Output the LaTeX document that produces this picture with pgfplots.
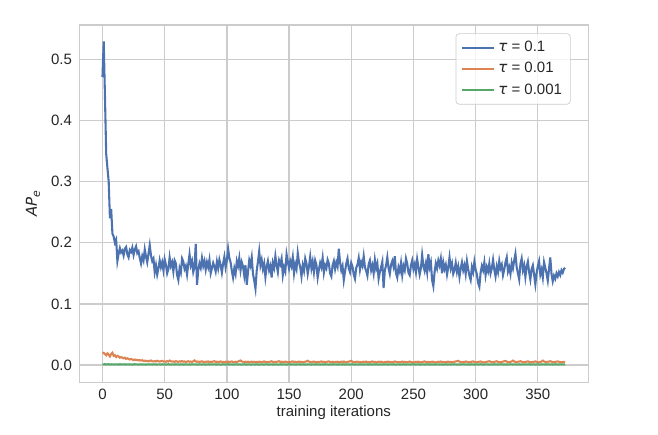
\documentclass[border=0pt]{standalone}
\usepackage{fontspec}
\setmainfont{Liberation Sans}
\newfontfamily\dejavu{DejaVu Sans}
\usepackage{pgfplots}
\pgfplotsset{compat=1.18}
\definecolor{sbblue}{RGB}{76,114,176}
\definecolor{sborange}{RGB}{221,132,82}
\definecolor{sbgreen}{RGB}{85,168,104}
\definecolor{gridgray}{RGB}{204,204,204}
\definecolor{labelgray}{RGB}{38,38,38}
\newcommand{\fs}{\fontsize{9}{10.8}\selectfont}
\begin{document}
\begin{tikzpicture}
\path[use as bounding box] (-47.6pt,-31.6pt) rectangle (347.2pt,229.4pt);
\begin{axis}[
  at={(0,0)}, anchor=south west,
  scale only axis, width=305.4pt, height=214.4pt,
  xmin=-18.6, xmax=390.6, ymin=-0.0283, ymax=0.556,
  xtick={0,50,100,150,200,250,300,350},
  xticklabels={0,50,100,150,200,250,300,350},
  ytick={0,0.1,0.2,0.3,0.4,0.5},
  yticklabels={0.0,0.1,0.2,0.3,0.4,0.5},
  major tick length=0pt,
  grid=major,
  major grid style={draw=gridgray, line width=0.8pt},
  axis line style={draw=gridgray, line width=0.8pt},
  tick label style={font=\fs, text=labelgray},
  xticklabel style={anchor=base, yshift=-10.6pt},
  yticklabel style={anchor=east, inner sep=0pt, xshift=-4.2pt},
  xlabel={training iterations},
  ylabel={{\dejavu\itshape AP\raisebox{-0.35ex}{\fontsize{6.5}{7}\selectfont e}}},
  xlabel style={at={(axis description cs:0.5,-0.086)}, anchor=center, font=\fs, text=labelgray},
  ylabel style={at={(axis description cs:-0.091,0.5)}, anchor=center, font=\fs, text=labelgray},
  legend style={at={(axis description cs:1,1)}, anchor=north east, xshift=-10.6pt, yshift=-5pt,
    draw=gridgray, rounded corners=2pt, fill=white, fill opacity=0.8, text opacity=1,
    font=\fs, text=labelgray, inner xsep=3pt, inner ysep=2.5pt, row sep=1pt,
    cells={anchor=west}},
  legend image code/.code={\draw[#1] (0pt,0pt) -- (19.2pt,0pt);},
]
\addplot[sbblue, line width=1.25pt] coordinates {
(0,0.471)(1,0.529)(2,0.440)(3,0.345)(4,0.322)(5,0.300)(6,0.240)(7,0.255)(8,0.215)(9,0.210)(10,0.200)(11,0.205)(12,0.170)
(13,0.182)(14,0.191)(15,0.184)(16,0.187)(17,0.179)(18,0.190)(19,0.193)(20,0.181)(21,0.176)(22,0.188)(23,0.185)(24,0.192)(25,0.180)(26,0.189)(27,0.194)(28,0.183)(29,0.186)(30,0.175)
(31,0.166)(32,0.178)(33,0.171)(34,0.189)(35,0.177)(36,0.168)(37,0.182)(38,0.196)(39,0.179)(40,0.170)(41,0.174)(42,0.152)(43,0.163)(44,0.148)(45,0.158)
(46,0.171)(47,0.160)(48,0.168)(49,0.155)(50,0.173)(51,0.164)(52,0.150)(53,0.157)(54,0.176)(55,0.162)(56,0.168)(57,0.153)(58,0.171)(59,0.166)(60,0.147)
(61,0.139)(62,0.158)(63,0.151)(64,0.174)(65,0.169)(66,0.157)(67,0.162)(68,0.148)(69,0.165)(70,0.181)(71,0.163)(72,0.170)(73,0.152)(74,0.160)(75,0.198)
(76,0.131)(77,0.155)(78,0.166)(79,0.159)(80,0.175)(81,0.162)(82,0.170)(83,0.156)(84,0.168)(85,0.160)(86,0.172)(87,0.150)(88,0.158)(89,0.167)(90,0.161)
(91,0.153)(92,0.169)(93,0.158)(94,0.172)(95,0.163)(96,0.151)(97,0.166)(98,0.177)(99,0.160)(100,0.171)(101,0.190)(102,0.175)(103,0.168)(104,0.154)(105,0.143)
(106,0.158)(107,0.149)(108,0.170)(109,0.162)(110,0.175)(111,0.155)(112,0.168)(113,0.161)(114,0.146)(115,0.163)(116,0.131)(117,0.152)(118,0.171)(119,0.163)(120,0.176)
(121,0.149)(122,0.138)(123,0.125)(124,0.154)(125,0.169)(126,0.186)(127,0.163)(128,0.172)(129,0.157)(130,0.166)(131,0.144)(132,0.161)(133,0.170)(134,0.155)(135,0.162)
(136,0.143)(137,0.167)(138,0.159)(139,0.178)(140,0.163)(141,0.152)(142,0.171)(143,0.165)(144,0.174)(145,0.147)(146,0.160)(147,0.153)(148,0.181)(149,0.169)(150,0.158)
(151,0.170)(152,0.162)(153,0.176)(154,0.150)(155,0.165)(156,0.157)(157,0.183)(158,0.168)(159,0.160)(160,0.145)(161,0.163)(162,0.154)(163,0.174)(164,0.166)(165,0.149)
(166,0.161)(167,0.177)(168,0.158)(169,0.169)(170,0.152)(171,0.171)(172,0.164)(173,0.143)(174,0.156)(175,0.167)(176,0.160)(177,0.175)(178,0.151)(179,0.163)(180,0.158)
(181,0.172)(182,0.166)(183,0.150)(184,0.145)(185,0.163)(186,0.170)(187,0.157)(188,0.168)(189,0.161)(190,0.190)(191,0.168)(192,0.155)(193,0.162)(194,0.139)(195,0.153)
(196,0.166)(197,0.174)(198,0.158)(199,0.152)(200,0.167)(201,0.161)(202,0.148)(203,0.141)(204,0.159)(205,0.164)(206,0.175)(207,0.156)(208,0.168)(209,0.162)(210,0.178)
(211,0.160)(212,0.154)(213,0.146)(214,0.165)(215,0.171)(216,0.155)(217,0.163)(218,0.150)(219,0.172)(220,0.158)(221,0.166)(222,0.141)(223,0.152)(224,0.160)(225,0.169)
(226,0.126)(227,0.155)(228,0.163)(229,0.176)(230,0.158)(231,0.149)(232,0.164)(233,0.170)(234,0.161)(235,0.178)(236,0.150)(237,0.143)(238,0.160)(239,0.153)(240,0.167)
(241,0.147)(242,0.162)(243,0.155)(244,0.174)(245,0.166)(246,0.151)(247,0.147)(248,0.163)(249,0.171)(250,0.157)(251,0.165)(252,0.152)(253,0.173)(254,0.160)(255,0.148)
(256,0.158)(257,0.180)(258,0.162)(259,0.154)(260,0.166)(261,0.152)(262,0.181)(263,0.160)(264,0.168)(265,0.139)(266,0.129)(267,0.152)(268,0.166)(269,0.158)(270,0.171)
(271,0.163)(272,0.174)(273,0.150)(274,0.168)(275,0.157)(276,0.164)(277,0.148)(278,0.160)(279,0.176)(280,0.158)(281,0.166)(282,0.149)(283,0.155)(284,0.167)(285,0.152)
(286,0.161)(287,0.144)(288,0.158)(289,0.168)(290,0.155)(291,0.163)(292,0.149)(293,0.170)(294,0.157)(295,0.146)(296,0.139)(297,0.160)(298,0.152)(299,0.169)(300,0.156)
(301,0.148)(302,0.134)(303,0.128)(304,0.151)(305,0.162)(306,0.155)(307,0.168)(308,0.147)(309,0.160)(310,0.153)(311,0.166)(312,0.150)(313,0.158)(314,0.172)(315,0.156)
(316,0.145)(317,0.161)(318,0.152)(319,0.170)(320,0.158)(321,0.164)(322,0.147)(323,0.156)(324,0.168)(325,0.176)(326,0.153)(327,0.160)(328,0.149)(329,0.167)(330,0.158)
(331,0.171)(332,0.182)(333,0.160)(334,0.150)(335,0.140)(336,0.165)(337,0.174)(338,0.155)(339,0.163)(340,0.144)(341,0.161)(342,0.169)(343,0.152)(344,0.140)(345,0.157)
(346,0.163)(347,0.148)(348,0.132)(349,0.150)(350,0.162)(351,0.170)(352,0.148)(353,0.156)(354,0.143)(355,0.168)(356,0.159)(357,0.150)(358,0.138)(359,0.157)(360,0.176)
(361,0.149)(362,0.137)(363,0.146)(364,0.141)(365,0.150)(366,0.145)(367,0.152)(368,0.147)(369,0.155)(370,0.151)(371,0.157)(372,0.159)
};
\addlegendentry{{\dejavu\itshape τ} = 0.1}
\addplot[sborange, line width=1.25pt] coordinates {
(0,0.019)(1,0.020)(2,0.018)(3,0.016)(4,0.019)(5,0.017)(6,0.014)(7,0.018)(8,0.020)(9,0.015)(10,0.016)(11,0.013)(12,0.015)(13,0.014)(14,0.012)
(15,0.013)(16,0.012)(17,0.011)(18,0.012)(19,0.010)(20,0.011)(21,0.010)(22,0.009)(23,0.010)(24,0.009)(25,0.008)(26,0.009)(27,0.008)(28,0.0085)(29,0.0075)
(30,0.0080)(31,0.0072)(32,0.0078)(33,0.0066)(34,0.0071)(35,0.0063)(36,0.0069)(37,0.0060)(38,0.0067)(39,0.0074)(40,0.0061)(41,0.0058)(42,0.0065)(43,0.0059)(44,0.0070)
(45,0.0062)(46,0.0056)(47,0.0063)(48,0.0068)(49,0.0057)(50,0.0060)(51,0.0053)(52,0.0064)(53,0.0058)(54,0.0073)(55,0.0061)(56,0.0055)(57,0.0059)(58,0.0052)(59,0.0063)
(60,0.0057)(61,0.0051)(62,0.0060)(63,0.0055)(64,0.0066)(65,0.0054)(66,0.0058)(67,0.0049)(68,0.0056)(69,0.0062)(70,0.0053)(71,0.0057)(72,0.0050)(73,0.0061)(74,0.0075)
(75,0.0060)(76,0.0052)(77,0.0057)(78,0.0049)(79,0.0055)(80,0.0061)(81,0.0051)(82,0.0047)(83,0.0056)(84,0.0053)(85,0.0059)(86,0.0048)(87,0.0054)(88,0.0050)(89,0.0058)
(90,0.0062)(91,0.0051)(92,0.0055)(93,0.0046)(94,0.0053)(95,0.0058)(96,0.0049)(97,0.0052)(98,0.0045)(99,0.0054)(100,0.0050)(101,0.0056)(102,0.0047)(103,0.0053)(104,0.0058)
(105,0.0050)(106,0.0046)(107,0.0053)(108,0.0049)(109,0.0057)(110,0.0066)(111,0.0074)(112,0.0058)(113,0.0051)(114,0.0047)(115,0.0054)(116,0.0049)(117,0.0055)(118,0.0045)(119,0.0050)
(120,0.0056)(121,0.0048)(122,0.0053)(123,0.0046)(124,0.0051)(125,0.0047)(126,0.0055)(127,0.0050)(128,0.0045)(129,0.0053)(130,0.0058)(131,0.0049)(132,0.0052)(133,0.0044)(134,0.0050)
(135,0.0055)(136,0.0061)(137,0.0050)(138,0.0047)(139,0.0053)(140,0.0048)(141,0.0057)(142,0.0062)(143,0.0051)(144,0.0055)(145,0.0046)(146,0.0051)(147,0.0056)(148,0.0048)(149,0.0045)
(150,0.0050)(151,0.0046)(152,0.0055)(153,0.0059)(154,0.0049)(155,0.0053)(156,0.0045)(157,0.0051)(158,0.0056)(159,0.0048)(160,0.0052)(161,0.0043)(162,0.0049)(163,0.0055)(164,0.0058)
(165,0.0070)(166,0.0055)(167,0.0050)(168,0.0046)(169,0.0052)(170,0.0057)(171,0.0048)(172,0.0044)(173,0.0050)(174,0.0046)(175,0.0054)(176,0.0058)(177,0.0049)(178,0.0053)(179,0.0044)
(180,0.0049)(181,0.0056)(182,0.0060)(183,0.0050)(184,0.0047)(185,0.0053)(186,0.0045)(187,0.0052)(188,0.0048)(189,0.0055)(190,0.0042)(191,0.0048)(192,0.0054)(193,0.0051)(194,0.0057)
(195,0.0047)(196,0.0043)(197,0.0050)(198,0.0055)(199,0.0061)(200,0.0068)(201,0.0053)(202,0.0049)(203,0.0045)(204,0.0052)(205,0.0056)(206,0.0047)(207,0.0051)(208,0.0043)(209,0.0049)
(210,0.0054)(211,0.0050)(212,0.0056)(213,0.0045)(214,0.0049)(215,0.0044)(216,0.0053)(217,0.0058)(218,0.0048)(219,0.0052)(220,0.0043)(221,0.0047)(222,0.0054)(223,0.0050)(224,0.0055)
(225,0.0046)(226,0.0042)(227,0.0048)(228,0.0053)(229,0.0049)(230,0.0056)(231,0.0045)(232,0.0050)(233,0.0044)(234,0.0051)(235,0.0058)(236,0.0052)(237,0.0046)(238,0.0049)(239,0.0043)
(240,0.0050)(241,0.0056)(242,0.0048)(243,0.0053)(244,0.0044)(245,0.0047)(246,0.0052)(247,0.0057)(248,0.0049)(249,0.0045)(250,0.0041)(251,0.0048)(252,0.0053)(253,0.0050)(254,0.0055)
(255,0.0046)(256,0.0043)(257,0.0049)(258,0.0054)(259,0.0058)(260,0.0050)(261,0.0046)(262,0.0052)(263,0.0044)(264,0.0048)(265,0.0055)(266,0.0051)(267,0.0045)(268,0.0042)(269,0.0049)
(270,0.0053)(271,0.0048)(272,0.0057)(273,0.0051)(274,0.0045)(275,0.0050)(276,0.0044)(277,0.0052)(278,0.0056)(279,0.0047)(280,0.0051)(281,0.0043)(282,0.0049)(283,0.0054)(284,0.0058)
(285,0.0063)(286,0.0068)(287,0.0055)(288,0.0049)(289,0.0045)(290,0.0052)(291,0.0047)(292,0.0058)(293,0.0053)(294,0.0049)(295,0.0044)(296,0.0050)(297,0.0055)(298,0.0059)(299,0.0051)
(300,0.0047)(301,0.0043)(302,0.0049)(303,0.0054)(304,0.0058)(305,0.0050)(306,0.0045)(307,0.0042)(308,0.0048)(309,0.0053)(310,0.0057)(311,0.0062)(312,0.0054)(313,0.0049)(314,0.0046)
(315,0.0052)(316,0.0056)(317,0.0061)(318,0.0050)(319,0.0047)(320,0.0044)(321,0.0051)(322,0.0055)(323,0.0062)(324,0.0066)(325,0.0056)(326,0.0050)(327,0.0046)(328,0.0052)(329,0.0057)
(330,0.0072)(331,0.0058)(332,0.0051)(333,0.0047)(334,0.0053)(335,0.0056)(336,0.0062)(337,0.0054)(338,0.0049)(339,0.0045)(340,0.0051)(341,0.0055)(342,0.0060)(343,0.0052)(344,0.0047)
(345,0.0044)(346,0.0050)(347,0.0053)(348,0.0059)(349,0.0051)(350,0.0047)(351,0.0043)(352,0.0050)(353,0.0056)(354,0.0072)(355,0.0058)(356,0.0051)(357,0.0047)(358,0.0053)(359,0.0057)
(360,0.0062)(361,0.0054)(362,0.0049)(363,0.0045)(364,0.0051)(365,0.0055)(366,0.0060)(367,0.0053)(368,0.0047)(369,0.0044)(370,0.0049)(371,0.0052)(372,0.0050)
};
\addlegendentry{{\dejavu\itshape τ} = 0.01}
\addplot[sbgreen, line width=1.25pt] coordinates {
(0,0.0012)(1,0.0010)(2,0.0014)(3,0.0009)(4,0.0011)(5,0.0013)(6,0.0008)(7,0.0012)(8,0.0010)(9,0.0011)
(10,0.0009)(11,0.0012)(12,0.0010)(13,0.0008)(14,0.0013)(15,0.0011)(16,0.0009)(17,0.0010)(18,0.0012)(19,0.0008)
(20,0.0011)(21,0.0009)(22,0.0012)(23,0.0010)(24,0.0007)(25,0.0011)(26,0.0013)(27,0.0009)(28,0.0010)(29,0.0008)
(30,0.0010)(31,0.0012)(32,0.0008)(33,0.0011)(34,0.0009)(35,0.0007)(36,0.0010)(37,0.0012)(38,0.0009)(39,0.0011)
(40,0.0008)(41,0.0010)(42,0.0012)(43,0.0009)(44,0.0007)(45,0.0011)(46,0.0010)(47,0.0008)(48,0.0012)(49,0.0009)
(50,0.0011)(51,0.0008)(52,0.0010)(53,0.0013)(54,0.0009)(55,0.0007)(56,0.0011)(57,0.0010)(58,0.0008)(59,0.0012)
(60,0.0009)(61,0.0011)(62,0.0007)(63,0.0010)(64,0.0012)(65,0.0008)(66,0.0010)(67,0.0009)(68,0.0011)(69,0.0007)
(70,0.0010)(71,0.0008)(72,0.0012)(73,0.0009)(74,0.0011)(75,0.0010)(76,0.0007)(77,0.0009)(78,0.0012)(79,0.0010)
(80,0.0008)(81,0.0011)(82,0.0009)(83,0.0007)(84,0.0010)(85,0.0012)(86,0.0008)(87,0.0011)(88,0.0009)(89,0.0010)
(90,0.0012)(91,0.0009)(92,0.0008)(93,0.0011)(94,0.0010)(95,0.0007)(96,0.0009)(97,0.0012)(98,0.0010)(99,0.0008)
(100,0.0010)(101,0.0012)(102,0.0008)(103,0.0009)(104,0.0011)(105,0.0007)(106,0.0010)(107,0.0009)(108,0.0012)(109,0.0008)
(110,0.0011)(111,0.0009)(112,0.0007)(113,0.0010)(114,0.0012)(115,0.0009)(116,0.0008)(117,0.0011)(118,0.0010)(119,0.0007)
(120,0.0009)(121,0.0011)(122,0.0010)(123,0.0008)(124,0.0012)(125,0.0009)(126,0.0007)(127,0.0010)(128,0.0011)(129,0.0009)
(130,0.0008)(131,0.0010)(132,0.0012)(133,0.0009)(134,0.0007)(135,0.0011)(136,0.0010)(137,0.0008)(138,0.0009)(139,0.0011)
(140,0.0010)(141,0.0007)(142,0.0009)(143,0.0012)(144,0.0008)(145,0.0010)(146,0.0011)(147,0.0009)(148,0.0007)(149,0.0010)
(150,0.0012)(151,0.0008)(152,0.0010)(153,0.0009)(154,0.0011)(155,0.0007)(156,0.0009)(157,0.0010)(158,0.0012)(159,0.0008)
(160,0.0009)(161,0.0011)(162,0.0008)(163,0.0010)(164,0.0007)(165,0.0012)(166,0.0009)(167,0.0010)(168,0.0008)(169,0.0011)
(170,0.0010)(171,0.0008)(172,0.0012)(173,0.0009)(174,0.0011)(175,0.0007)(176,0.0010)(177,0.0009)(178,0.0008)(179,0.0012)
(180,0.0009)(181,0.0011)(182,0.0007)(183,0.0010)(184,0.0008)(185,0.0012)(186,0.0009)(187,0.0011)(188,0.0010)(189,0.0007)
(190,0.0011)(191,0.0009)(192,0.0010)(193,0.0008)(194,0.0012)(195,0.0007)(196,0.0010)(197,0.0011)(198,0.0009)(199,0.0008)
(200,0.0010)(201,0.0012)(202,0.0009)(203,0.0007)(204,0.0011)(205,0.0010)(206,0.0008)(207,0.0012)(208,0.0009)(209,0.0010)
(210,0.0008)(211,0.0010)(212,0.0011)(213,0.0009)(214,0.0007)(215,0.0012)(216,0.0010)(217,0.0008)(218,0.0011)(219,0.0009)
(220,0.0012)(221,0.0009)(222,0.0007)(223,0.0010)(224,0.0011)(225,0.0008)(226,0.0010)(227,0.0009)(228,0.0012)(229,0.0007)
(230,0.0009)(231,0.0011)(232,0.0010)(233,0.0008)(234,0.0012)(235,0.0009)(236,0.0007)(237,0.0010)(238,0.0011)(239,0.0008)
(240,0.0010)(241,0.0008)(242,0.0012)(243,0.0009)(244,0.0007)(245,0.0011)(246,0.0010)(247,0.0009)(248,0.0008)(249,0.0012)
(250,0.0011)(251,0.0009)(252,0.0008)(253,0.0010)(254,0.0012)(255,0.0007)(256,0.0009)(257,0.0011)(258,0.0010)(259,0.0008)
(260,0.0009)(261,0.0012)(262,0.0010)(263,0.0007)(264,0.0011)(265,0.0009)(266,0.0010)(267,0.0008)(268,0.0012)(269,0.0009)
(270,0.0010)(271,0.0008)(272,0.0011)(273,0.0009)(274,0.0007)(275,0.0010)(276,0.0012)(277,0.0008)(278,0.0009)(279,0.0011)
(280,0.0008)(281,0.0010)(282,0.0009)(283,0.0012)(284,0.0010)(285,0.0007)(286,0.0011)(287,0.0009)(288,0.0008)(289,0.0010)
(290,0.0012)(291,0.0009)(292,0.0010)(293,0.0008)(294,0.0011)(295,0.0007)(296,0.0010)(297,0.0012)(298,0.0009)(299,0.0008)
(300,0.0010)(301,0.0011)(302,0.0008)(303,0.0009)(304,0.0012)(305,0.0010)(306,0.0007)(307,0.0009)(308,0.0011)(309,0.0010)
(310,0.0009)(311,0.0007)(312,0.0011)(313,0.0010)(314,0.0008)(315,0.0012)(316,0.0009)(317,0.0010)(318,0.0008)(319,0.0011)
(320,0.0010)(321,0.0012)(322,0.0008)(323,0.0009)(324,0.0011)(325,0.0007)(326,0.0010)(327,0.0009)(328,0.0012)(329,0.0010)
(330,0.0008)(331,0.0011)(332,0.0009)(333,0.0010)(334,0.0007)(335,0.0012)(336,0.0010)(337,0.0008)(338,0.0011)(339,0.0009)
(340,0.0011)(341,0.0009)(342,0.0010)(343,0.0012)(344,0.0008)(345,0.0010)(346,0.0009)(347,0.0011)(348,0.0007)(349,0.0010)
(350,0.0012)(351,0.0008)(352,0.0010)(353,0.0009)(354,0.0011)(355,0.0010)(356,0.0008)(357,0.0012)(358,0.0009)(359,0.0010)
(360,0.0009)(361,0.0011)(362,0.0008)(363,0.0010)(364,0.0012)(365,0.0009)(366,0.0010)(367,0.0008)(368,0.0011)(369,0.0009)
(370,0.0010)(371,0.0009)(372,0.0011)
};
\addlegendentry{{\dejavu\itshape τ} = 0.001}
\end{axis}
\end{tikzpicture}
\end{document}
